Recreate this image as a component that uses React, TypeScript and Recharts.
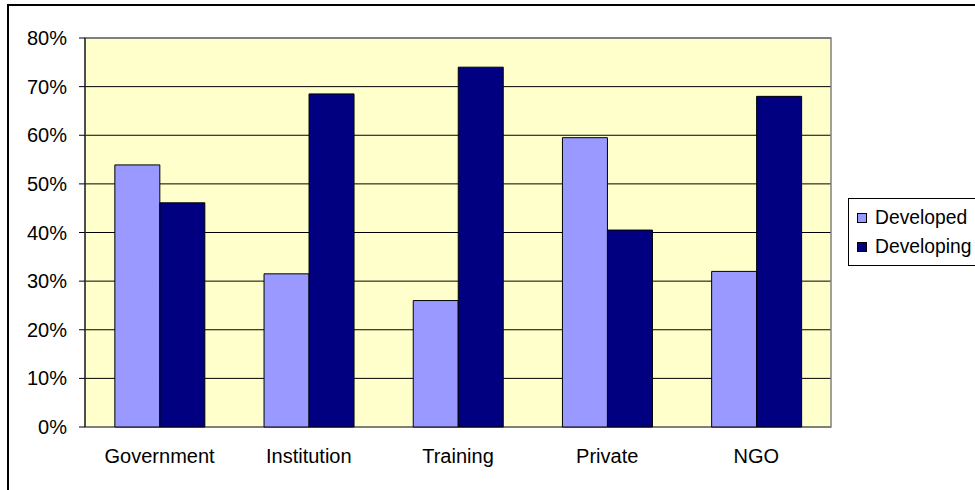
import React from "react";
import {
  BarChart,
  Bar,
  XAxis,
  YAxis,
  CartesianGrid,
  ReferenceArea,
} from "recharts";

const categories = ["Government", "Institution", "Training", "Private", "NGO"];
const developed = [0.539, 0.315, 0.26, 0.595, 0.32];
const developing = [0.461, 0.685, 0.74, 0.405, 0.68];
const yTicks = [0, 0.1, 0.2, 0.3, 0.4, 0.5, 0.6, 0.7, 0.8];
const boundaryTicks = [0, 1, 2, 3, 4, 5];

const seriesInfo = [
  { key: "developed", label: "Developed", color: "#9999FF" },
  { key: "developing", label: "Developing", color: "#000080" },
];

const data = categories.map((name, i) => ({
  name,
  developed: developed[i],
  developing: developing[i],
}));

const FONT = "'Liberation Sans', Arial, sans-serif";

// legend box drawn by hand, Excel style: thin black frame, small squares
function LegendBox() {
  return (
    <div
      style={{
        position: "absolute",
        left: 848,
        top: 198,
        border: "1px solid #000",
        background: "#fff",
        padding: "4px 0 4px 8px",
        width: 140,
        fontFamily: FONT,
        fontSize: 19.3,
        color: "#000",
        lineHeight: "29px",
      }}
    >
      {seriesInfo.map((s) => (
        <div key={s.key} style={{ display: "flex", alignItems: "center", whiteSpace: "nowrap" }}>
          <span
            style={{
              display: "inline-block",
              width: 8,
              height: 8,
              background: s.color,
              border: "1px solid #000",
              marginRight: 8,
            }}
          />
          {s.label}
        </div>
      ))}
    </div>
  );
}

export default function App() {
  return (
    <div
      style={{
        position: "fixed",
        left: 0,
        top: 0,
        width: 975,
        height: 490,
        overflow: "hidden",
        background: "#fff",
      }}
    >
      <div
        style={{
          position: "absolute",
          left: 7,
          top: 4,
          width: 1000,
          height: 520,
          border: "2px solid #000",
        }}
      />
      <div style={{ position: "absolute", left: 0, top: 0 }}>
        <BarChart
          width={975}
          height={490}
          data={data}
          margin={{ top: 38, right: 144, left: 0, bottom: 18 }}
          barCategoryGap="20%"
          barGap={0}
        >
          <CartesianGrid
            vertical={false}
            stroke="#000"
            fill="#FFFFCC"
            fillOpacity={1}
          />
          <XAxis
            xAxisId="edges"
            type="number"
            domain={[0, 5]}
            ticks={boundaryTicks}
            height={0}
            tickSize={6}
            tickFormatter={() => ""}
            axisLine={{ stroke: "#000" }}
            tickLine={{ stroke: "#000" }}
          />
          <XAxis
            dataKey="name"
            height={45}
            axisLine={false}
            tickLine={false}
            tickMargin={16}
            interval={0}
            tick={{ fill: "#000", fontSize: 20, fontFamily: FONT }}
          />
          <YAxis
            width={85}
            domain={[0, 0.8]}
            ticks={yTicks}
            interval={0}
            tickSize={6}
            tickMargin={12}
            tickFormatter={(v: number) => `${Math.round(v * 100)}%`}
            axisLine={{ stroke: "#000" }}
            tickLine={{ stroke: "#000" }}
            tick={{ fill: "#000", fontSize: 20, fontFamily: FONT }}
          />
          <ReferenceArea
            y1={0}
            y2={0.8}
            fill="none"
            stroke="#808080"
            strokeWidth={1.5}
          />
          {seriesInfo.map((s) => (
            <Bar
              key={s.key}
              dataKey={s.key}
              name={s.label}
              fill={s.color}
              stroke="#000"
              strokeWidth={1}
              isAnimationActive={false}
            />
          ))}
        </BarChart>
      </div>
      <LegendBox />
    </div>
  );
}
